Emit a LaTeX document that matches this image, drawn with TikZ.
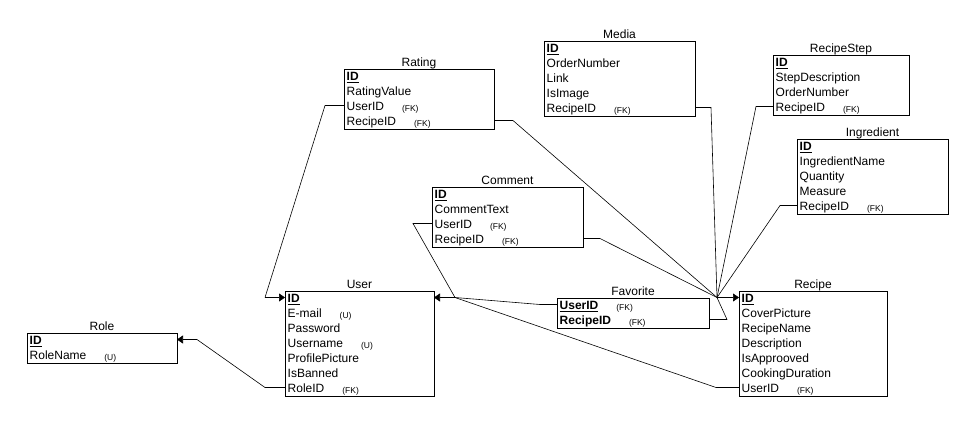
\documentclass[tikz,border=0pt]{standalone}
\usepackage{fontspec}
\setmainfont{Liberation Sans}
\usetikzlibrary{arrows.meta,calc}

% key markers
\newcommand\pk[1]{\underline{\textbf{#1}}}
\newcommand\fk[1]{#1\hspace{18pt}\raisebox{-1pt}{\fontsize{8.5}{8.5}\selectfont (FK)}}
\newcommand\uq[1]{#1\hspace{18pt}\raisebox{-1pt}{\fontsize{8.5}{8.5}\selectfont (U)}}

\tikzset{
  ebox/.style={draw, line width=0.8pt, inner sep=0pt, outer sep=0pt},
  etitle/.style={anchor=base, inner sep=0pt, font=\fontsize{12}{12}\selectfont},
  fld/.style={anchor=base west, inner sep=0pt, font=\fontsize{12}{12}\selectfont},
  link/.style={line width=0.6pt},
  tip/.style={link, -{Triangle[length=6pt,width=8pt]}},
}

% table: name, left, top, width, rows, title
\newcommand\entity[6]{%
  \node[ebox, anchor=north west, minimum width=#4pt, minimum height={15*#5pt}] (#1) at (#2,#3) {};
  \node[etitle] (#1-title) at ($(#1.north)+(0,-2.5)$) {#6};
}
% rows of a table, with connection points on both sides
\newcommand\fields[2]{%
  \foreach \t [count=\k] in {#2} {
    \node[fld] (#1-\k) at ($(#1.north west)+(2.5,{11.5+15*(\k-1)})$) {\t};
    \coordinate (#1-\k-w) at ($(#1.north west)+(0,{6.5+15*(\k-1)})$);
    \coordinate (#1-\k-e) at ($(#1.north east)+(0,{6.5+15*(\k-1)})$);
  }
}

\begin{document}
\begin{tikzpicture}[x=1pt,y=-1pt]
\fill[white] (0,0) rectangle (975,421);
\useasboundingbox (0,0) rectangle (975,421);

\entity{rating}{344}{69}{150}{4}{Rating}
\fields{rating}{\pk{ID}, RatingValue, \fk{UserID}, \fk{RecipeID}}

\entity{media}{544}{41}{151}{5}{Media}
\fields{media}{\pk{ID}, OrderNumber, Link, IsImage, \fk{RecipeID}}

\entity{step}{773}{55}{136}{4}{RecipeStep}
\fields{step}{\pk{ID}, StepDescription, OrderNumber, \fk{RecipeID}}

\entity{ingr}{797}{139}{151}{5}{Ingredient}
\fields{ingr}{\pk{ID}, IngredientName, Quantity, Measure, \fk{RecipeID}}

\entity{comment}{432}{187}{151}{4}{Comment}
\fields{comment}{\pk{ID}, CommentText, \fk{UserID}, \fk{RecipeID}}

\entity{user}{285}{291}{149}{7}{User}
\fields{user}{\pk{ID}, \uq{E-mail}, Password, \uq{Username}, ProfilePicture, IsBanned, \fk{RoleID}}

\entity{role}{27}{333}{150}{2}{Role}
\fields{role}{\pk{ID}, \uq{RoleName}}

\entity{fav}{557}{298}{152}{2}{Favorite}
\fields{fav}{\fk{\pk{UserID}}, \fk{\pk{RecipeID}}}

\entity{recipe}{739}{291}{148}{7}{Recipe}
\fields{recipe}{\pk{ID}, CoverPicture, RecipeName, Description, IsApprooved, CookingDuration, \fk{UserID}}

% references to Recipe
\coordinate (hubR) at ($(recipe-1-w)+(-22,0)$);
\draw[tip] (hubR) -- (recipe-1-w);
\draw[link] (rating-4-e) -- ++(19,0) -- (hubR);
\draw[link] (media-5-e) -- ++(16,0) -- (hubR);
\draw[link] (step-4-w) -- ++(-17,0) -- (hubR);
\draw[link] (ingr-5-w) -- ++(-17,0) -- (hubR);
\draw[link] (comment-4-e) -- ++(17,0) -- (hubR);
\draw[link] (fav-2-e) -- ++(18,0) -- (hubR);

% references to User
\coordinate (hubUL) at ($(user-1-w)+(-20,0)$);
\draw[tip] (hubUL) -- (user-1-w);
\draw[link] (rating-3-w) -- ++(-19,0) -- (hubUL);
\coordinate (hubUR) at ($(user-1-e)+(21,0)$);
\draw[tip] (hubUR) -- (user-1-e);
\draw[link] (comment-3-w) -- ++(-19,0) -- (hubUR);
\draw[link] (fav-1-w) -- ++(-17,0) -- (hubUR);
\draw[link] (recipe-7-w) -- ++(-23,0) -- (hubUR);

% reference to Role
\coordinate (hubRole) at ($(role-1-e)+(20,0)$);
\draw[tip] (hubRole) -- (role-1-e);
\draw[link] (user-7-w) -- ++(-20,0) -- (hubRole);
\end{tikzpicture}
\end{document}
